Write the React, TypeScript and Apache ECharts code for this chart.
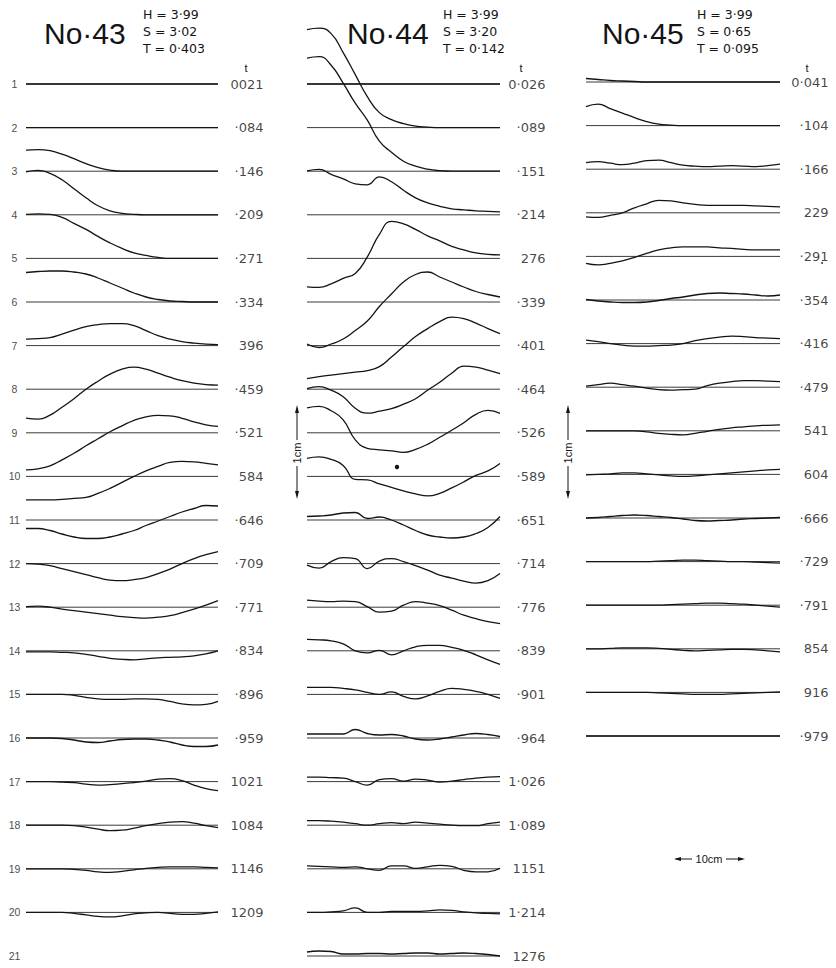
import React, { useEffect, useRef } from "react";
import * as echarts from "echarts";

// ---------- data ----------
const RUN_NAMES = ["No·43", "No·44", "No·45"];
const PARAMS_43 = ["H = 3·99", "S = 3·02", "T = 0·403"];
const PARAMS_44 = ["H = 3·99", "S = 3·20", "T = 0·142"];
const PARAMS_45 = ["H = 3·99", "S = 0·65", "T = 0·095"];

const ROW_NUMBERS = ["1","2","3","4","5","6","7","8","9","10","11","12","13","14","15","16","17","18","19","20","21"];

const TIMES_43 = ["0021","·084","·146","·209","·271","·334","396","·459","·521","584","·646","·709","·771","·834","·896","·959","1021","1084","1146","1209"];
const TIMES_44 = ["0·026","·089","·151","·214","276","·339","·401","·464","·526","·589","·651","·714","·776","·839","·901","·964","1·026","1·089","1151","1·214","1276"];
const TIMES_45 = ["0·041","·104","·166","229","·291","·354","·416","·479","541","604","·666","·729","·791","854","916","·979"];

// surface elevation above each profile's still-water line, 17 stations along the tank
const ELEV_43 = [
  [0,0,0,0,0,0,0,0,0,0,0,0,0,0,0,0,0],
  [0,0,0,0,0,0,0,0,0,0,0,0,0,0,0,0,0],
  [21,21.5,20.5,17,12.5,7.5,3.5,1,0,0,0,0,0,0,0,0,0],
  [43,44.5,41.5,35,26,17,9,4,1.5,0.5,0,0,0,0,0,0,0],
  [44,44.5,44,41,35,29,22,15.5,10,5.5,3,1,0,0,0,0,0],
  [29.5,30.5,31,31,30,28,24,19,14,9,5,2.5,1,0.5,0,0,0],
  [6.5,7,8,11.5,15.5,19,21,22,22,20,15,10,6.5,4,2.5,1.5,1],
  [-29,-30,-26,-18,-9.5,0,8,15,20,22,20,16,12,8.5,6,4.5,4],
  [-37,-36,-33,-27,-20.5,-13,-6,1,7,12.5,16,17.5,17,14.5,11,8,6.5],
  [-23.5,-23.5,-23.5,-23,-22,-21,-17,-12,-6,0,5.5,10,14,15,14.5,13,11.5],
  [-8.5,-8.5,-10.5,-14,-17,-18.5,-18.5,-17,-14,-10.5,-5.5,-1,3.5,8,11.5,14.5,14],
  [0,-0.5,-2,-5,-8,-11,-14,-16.5,-17,-16,-14,-10,-5.5,0,5,9,12],
  [0.5,1,0,-2,-3.5,-5,-6.5,-8,-9.5,-10.5,-11,-10,-8.5,-5.5,-2,2,6.5],
  [-1,-1,-1,-1.5,-2,-3.5,-5.5,-7.5,-8.5,-9,-8,-7,-6.5,-6,-5,-3,0],
  [0,0,0,0,-1,-3,-4.5,-5,-5,-4.5,-4.5,-5,-7,-9.5,-10.5,-10,-7],
  [0,0,0,-0.5,-2,-4,-4.5,-3,-1.5,-1,-1,-2,-4,-7,-8.5,-8.5,-7],
  [0,0,0,-0.5,-1,-2.5,-3.5,-3,-2,-1,0.5,2.5,3,1,-3.5,-7,-9],
  [0,0,0,0,-0.5,-2,-4,-5.5,-5,-3,-0.5,1.5,3,3.5,2,-0.5,-2.5],
  [0,0,0,0,-0.5,-1.5,-3,-3.5,-2.5,-1,0.5,1.5,2,2,2,1.5,1],
  [0,0,0,0,-1,-2.5,-4,-4.5,-3.5,-1.5,-0.5,0,-1,-2,-2,-1,0.5],
];

const ELEV_44 = [
  [0,0,0,0,0,0,0,0,0,0,0,0,0,0,0,0,0],
  [98,99.5,94,75,53,31,15,8,4,1.5,0.5,0,0,0,0,0,0],
  [113,114.5,106,88,68,51,30,19,10,5,2,0.5,0,0,0,0,0],
  [44,45.5,40.5,36,31,30,38,33,24.5,17,12,8.5,6,5,4,3.5,3],
  [-28.5,-29,-25.5,-20,-15,1.5,24,37,34.5,29,22.5,17.5,12,8.5,5.5,4,3.5],
  [-42,-45.5,-42,-37,-28.5,-19,-4.5,8,20,27.5,30,25,20,15,10.5,7.5,5],
  [-33,-31,-29.5,-28,-26.5,-25,-21,-11.5,-1,9,17,24,28.5,27,22.5,17,12],
  [0.5,2.5,-1,-7.5,-19,-24,-22,-19.5,-15,-9.5,-1,7,16,23,22,19,15.5],
  [25,26.5,22,13,-7,-15.5,-17,-18,-19.5,-16.5,-11.5,-4.5,2.5,10,18.5,22.5,19.5],
  [18,19.5,17,11,-3,-3.5,-7.5,-11,-14.5,-17.5,-19.5,-17,-11.5,-5.5,1,5.5,13],
  [3.5,4,5,7,7.5,1.5,3,0,-5,-10.5,-15,-17,-18,-17,-13.5,-7.5,3.5],
  [-1.5,-4.5,2,6,5,-5,2.5,5,2,-2,-6.5,-11.5,-14.5,-17.5,-19.5,-17,-10],
  [7,6,5.5,6,5.5,0.5,-5,-4,2,5.5,4,1.5,-3,-8,-11.5,-14.5,-16.5],
  [11.5,11,10,7,0,-2,0.5,-4,0,4,5.5,5.5,3.5,0.5,-4,-9,-13.5],
  [7,7,7,6,4.5,2,0,2.5,-2,-4.5,-1.5,3,6,5,3,0,-4],
  [4,4,4,4,8.5,4.5,3,3.5,2,-1,-2,-1,1,3,4.5,3.5,1.5],
  [4.5,4.5,4,3.5,0,-3.5,2,3,0.5,2.5,1.5,-0.5,0.5,2,3.5,4.5,5],
  [4.5,4.5,4,3,1.5,0,1.5,2.5,1.5,3,2,1,0,-0.5,-0.5,1.5,3],
  [3,2.5,2,1.5,2,0,-1.5,3,3,0.5,2,3.5,2.5,-1.5,-3,-3,0.5],
  [0,0,0.5,1.5,4.5,0,0,1,1,1,1.5,2.5,2,0.5,-0.5,-1,-1.5],
  [4,5,4.5,2,2,2.5,2.5,2,2.5,3,3,2,2.5,3,2.5,1.5,0],
];

const ELEV_45 = [
  [3.5,2.5,1.5,1,0.5,0,0,0,0,0,0,0,0,0,0,0,0],
  [19,21.5,17,12.5,8,4,1.5,0.5,0,0,0,0,0,0,0,0,0],
  [6.5,7.5,6,4.5,6,8.5,9,6.5,4,3,2.5,3,3.5,3,2.5,3.5,5],
  [-4,-4.5,-2.5,0,5,9,12.5,12,10,8.5,7.5,7.5,7.5,7.5,7,6.5,6],
  [-7,-8.5,-7,-4.5,-1,3,6.5,8.5,9.5,9.5,9.5,8.5,8,7,6.5,6.5,6.5],
  [0.5,-1,-2,-2.5,-2.5,-2,-0.5,1.5,3,5,6.5,7,6.5,6,5,4,5],
  [3.5,2,0,-1.5,-2.5,-2.5,-2,-1.5,0,3,5,6.5,7.5,7,6,5.5,5],
  [1,2.5,4,2.5,1,-1,-2.5,-3,-2.5,-2,1.5,4,5.5,6.5,6.5,6,5.5],
  [0,0,0,0,0,-1,-2.5,-3.5,-4,-2.5,-0.5,1.5,3,4,5,5.5,6],
  [-0.5,0,0.5,1.5,1.5,0.5,-0.5,-1.5,-2,-1.5,-0.5,0.5,1.5,2.5,3.5,4.5,5],
  [0,0.5,1.5,2.5,3,2.5,1.5,0.5,-1,-2.5,-3,-2.5,-2,-1,-0.5,0,0.5],
  [0,0,0,0,0,0,0.5,1,1.5,1.5,1,0.5,0,0,-0.5,-1,-1.5],
  [0,0,0,0,0,0,0,0.5,1,1.5,2,2,1.5,1,0,-1,-2],
  [0,0,0.5,1,1,1,0.5,-0.5,-1.5,-2,-1.5,-1,-0.5,-0.5,-1,-2,-3],
  [0,0,0,0,0,0,-0.5,-1,-1.5,-2,-2,-2,-1.5,-1,-0.5,0,0.5],
  [0,0,0,0,0,0,0,0,0,0,0,0,0,0,0,0,0],
];

// ---------- layout ----------
const ROW_GAP = 43.6;
const LAST = 16;
const FONT = "'Liberation Sans', 'DejaVu Sans', Arial, sans-serif";
const FONT_NUM = "'DejaVu Sans', 'Liberation Sans', sans-serif";
const INK = "#141414";

const COLUMNS = [
  { left: 26, width: 192, firstY: 84, elev: ELEV_43, times: TIMES_43, rowLabels: true, timeDist: 45 },
  { left: 307, width: 193, firstY: 84, elev: ELEV_44, times: TIMES_44, rowLabels: false, timeDist: 45 },
  { left: 586, width: 194, firstY: 82, elev: ELEV_45, times: TIMES_45, rowLabels: false, timeDist: 48 },
];

function buildOption() {
  const grid: any[] = [];
  const xAxis: any[] = [];
  const yAxis: any[] = [];
  const series: any[] = [];
  const yMax = 1.5 * ROW_GAP;
  const yMin = -20.25 * ROW_GAP;

  COLUMNS.forEach((col, ci) => {
    grid.push({
      left: col.left,
      width: col.width,
      top: col.firstY - yMax,
      height: yMax - yMin,
      containLabel: false,
    });
    xAxis.push({ gridIndex: ci, type: "value", min: 0, max: LAST, show: false });
    yAxis.push({ gridIndex: ci, type: "value", min: yMin, max: yMax, show: false });

    col.elev.forEach((row, ri) => {
      const base = -ri * ROW_GAP;
      series.push({
        type: "line",
        xAxisIndex: ci,
        yAxisIndex: ci,
        data: [[0, base], [LAST, base]],
        symbol: "none",
        silent: true,
        lineStyle: { color: "#3a3a3a", width: 1 },
        z: 2,
      });
      series.push({
        type: "line",
        xAxisIndex: ci,
        yAxisIndex: ci,
        data: row.map((e, k) => [k, base + e]),
        symbol: "none",
        smooth: 0.5,
        silent: true,
        clip: false,
        lineStyle: { color: INK, width: 1.3 },
        z: 3,
      });
    });

    const labelData: any[] = [];
    const nRowLabels = col.rowLabels ? ROW_NUMBERS.length : 0;
    for (let ri = 0; ri < nRowLabels; ri++) {
      labelData.push({
        value: [0, -ri * ROW_GAP],
        label: {
          show: true,
          position: "left",
          distance: 11,
          align: "center",
          formatter: ROW_NUMBERS[ri],
          fontSize: 10.5,
          fontFamily: FONT,
          color: INK,
        },
      });
    }
    col.times.forEach((t, ri) => {
      labelData.push({
        value: [LAST, -ri * ROW_GAP],
        label: {
          show: true,
          position: "right",
          distance: col.timeDist,
          align: "right",
          formatter: t,
          fontSize: 13,
          fontFamily: FONT_NUM,
          color: INK,
        },
      });
    });
    series.push({
      type: "scatter",
      xAxisIndex: ci,
      yAxisIndex: ci,
      data: labelData,
      symbolSize: 1,
      itemStyle: { color: "rgba(0,0,0,0)" },
      silent: true,
      clip: false,
    });
  });

  const graphic: any[] = [];
  const headerX = [44, 347, 602];
  const paramX = [143, 443, 697];
  const params = [PARAMS_43, PARAMS_44, PARAMS_45];
  const tX = [246, 521, 807];
  RUN_NAMES.forEach((name, i) => {
    graphic.push({
      type: "text",
      x: headerX[i],
      y: 33,
      style: { text: name, fontSize: 30, fontFamily: FONT, fill: INK, textAlign: "left", textVerticalAlign: "middle" },
    });
    params[i].forEach((p, j) => {
      graphic.push({
        type: "text",
        x: paramX[i],
        y: 14 + j * 17,
        style: { text: p, fontSize: 12.5, fontFamily: FONT_NUM, fill: INK, textAlign: "left", textVerticalAlign: "middle" },
      });
    });
    graphic.push({
      type: "text",
      x: tX[i],
      y: 68,
      style: { text: "t", fontSize: 11, fontFamily: FONT, fill: INK, textAlign: "center", textVerticalAlign: "middle" },
    });
  });

  // vertical 1 cm scale bars
  [297, 568].forEach((x) => {
    graphic.push({ type: "line", shape: { x1: x, y1: 410, x2: x, y2: 495 }, style: { stroke: INK, lineWidth: 1 } });
    graphic.push({ type: "polygon", shape: { points: [[x, 405], [x - 2, 413], [x + 2, 413]] }, style: { fill: INK } });
    graphic.push({ type: "polygon", shape: { points: [[x, 499], [x - 2, 491], [x + 2, 491]] }, style: { fill: INK } });
    graphic.push({ type: "rect", shape: { x: x - 6, y: 440, width: 12, height: 26 }, style: { fill: "#fff" } });
    graphic.push({
      type: "text",
      x: x,
      y: 453,
      rotation: Math.PI / 2,
      style: { text: "1cm", fontSize: 11, fontFamily: FONT, fill: INK, textAlign: "center", textVerticalAlign: "middle" },
    });
  });

  // horizontal 10 cm scale bar
  graphic.push({ type: "line", shape: { x1: 676, y1: 859, x2: 742, y2: 859 }, style: { stroke: INK, lineWidth: 1 } });
  graphic.push({ type: "polygon", shape: { points: [[674, 859], [681, 857], [681, 861]] }, style: { fill: INK } });
  graphic.push({ type: "polygon", shape: { points: [[745, 859], [738, 857], [738, 861]] }, style: { fill: INK } });
  graphic.push({ type: "rect", shape: { x: 692, y: 852, width: 34, height: 14 }, style: { fill: "#fff" } });
  graphic.push({
    type: "text",
    x: 709,
    y: 859,
    style: { text: "10cm", fontSize: 11, fontFamily: FONT, fill: INK, textAlign: "center", textVerticalAlign: "middle" },
  });

  // specks on the original plate
  graphic.push({ type: "circle", shape: { cx: 397, cy: 467, r: 2.2 }, style: { fill: INK } });
  graphic.push({ type: "circle", shape: { cx: 822, cy: 263, r: 1 }, style: { fill: "#444" } });

  return {
    animation: false,
    backgroundColor: "#ffffff",
    grid,
    xAxis,
    yAxis,
    series,
    graphic,
  };
}

export default function App() {
  const ref = useRef<HTMLDivElement>(null);
  useEffect(() => {
    if (!ref.current) return;
    const chart = echarts.init(ref.current, undefined, { renderer: "svg" });
    chart.setOption(buildOption() as any);
    return () => chart.dispose();
  }, []);
  return (
    <div
      ref={ref}
      style={{ position: "absolute", left: 0, top: 0, width: 836, height: 968, background: "#fff" }}
    />
  );
}
